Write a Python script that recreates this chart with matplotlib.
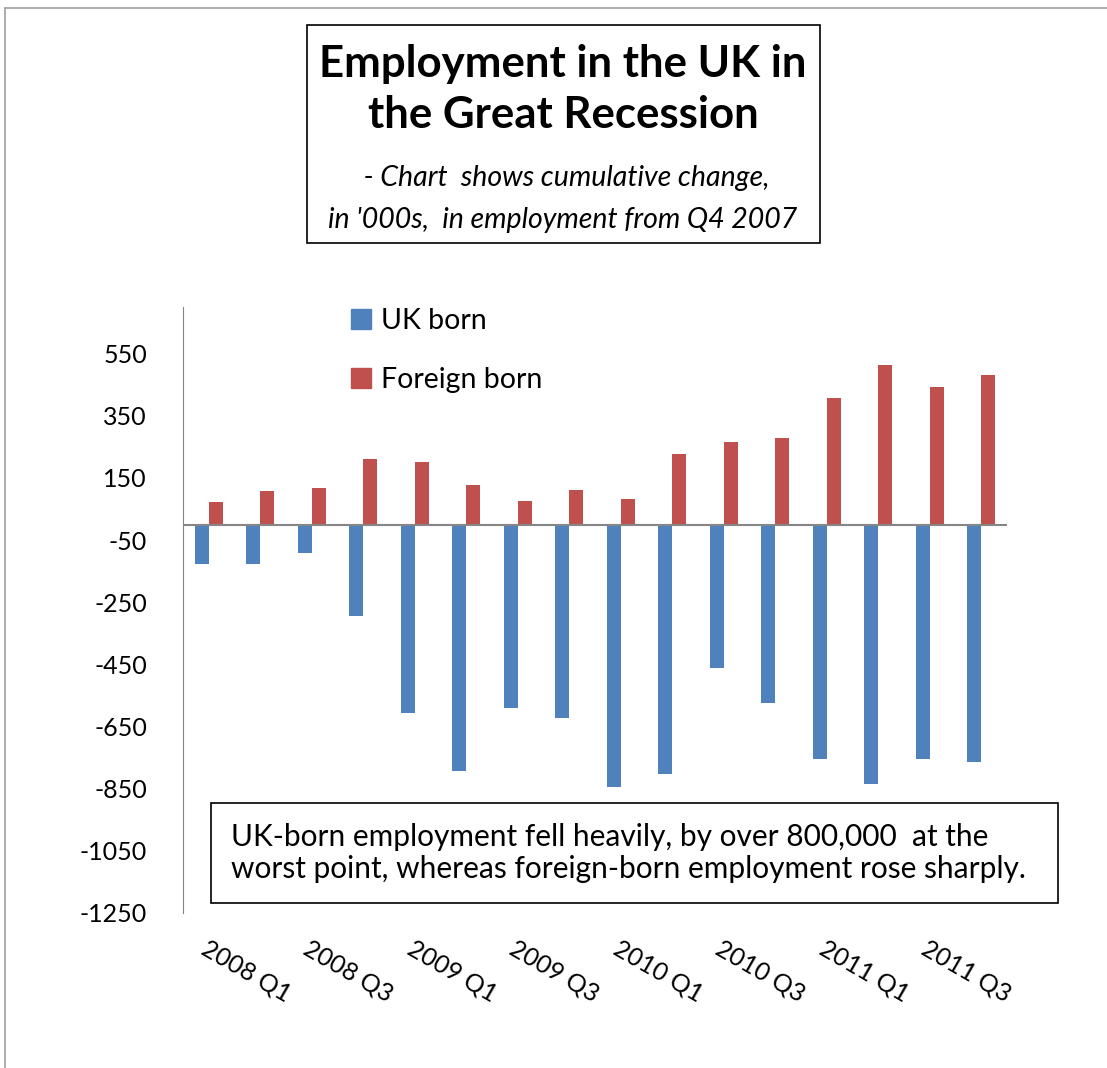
import numpy as np
import matplotlib
matplotlib.use("Agg")
import matplotlib.pyplot as plt
from matplotlib.patches import Rectangle, Patch
from matplotlib.lines import Line2D

plt.rcParams['font.family'] = ['Lato', 'DejaVu Sans']

# Cumulative change in employment since Q4 2007, thousands
quarters = ['2008 Q1', '2008 Q2', '2008 Q3', '2008 Q4',
            '2009 Q1', '2009 Q2', '2009 Q3', '2009 Q4',
            '2010 Q1', '2010 Q2', '2010 Q3', '2010 Q4',
            '2011 Q1', '2011 Q2', '2011 Q3', '2011 Q4']
uk_born = [-128, -128, -93, -293, -608, -794, -589, -623,
           -845, -804, -463, -573, -755, -834, -755, -764]
foreign_born = [72, 107, 117, 212, 202, 127, 77, 112,
                82, 227, 267, 278, 407, 513, 443, 482]
y_ticks = [550, 350, 150, -50, -250, -450, -650, -850, -1050, -1250]

W, H = 1107, 1068
fig = plt.figure(figsize=(W / 100, H / 100), dpi=100)


def fx(px):
    return px / W


def fy(py):
    return 1 - py / H


ax = fig.add_axes([fx(183), fy(913), fx(1007) - fx(183), fy(307) - fy(913)])

x = np.arange(len(quarters))
w = 0.272
ax.bar(x - w / 2, uk_born, w, color='#4F81BD', label='UK born')
ax.bar(x + w / 2, foreign_born, w, color='#C0504D', label='Foreign born')
ax.axhline(0, color='#868686', lw=1.5, zorder=3)

ax.set_xlim(-0.5, len(quarters) - 0.5)
ax.set_ylim(-1250, 700)
ax.set_yticks(y_ticks)
ax.set_yticklabels([str(v) for v in y_ticks], fontsize=18)
ax.set_xticks(x[::2])
ax.set_xticklabels(quarters[::2], fontsize=18, rotation=-30,
                   ha='left', va='top', rotation_mode='anchor')
ax.tick_params(axis='both', length=0)
ax.tick_params(axis='y', pad=26)
ax.tick_params(axis='x', pad=17)
for s in ['top', 'right', 'bottom']:
    ax.spines[s].set_visible(False)
ax.spines['left'].set_color('#868686')

# legend in the upper left of the plot
handles = [Patch(color='#4F81BD'), Patch(color='#C0504D')]
fig.legend(handles, ['UK born', 'Foreign born'], loc='upper left',
           bbox_to_anchor=(fx(351), fy(308)), frameon=False, fontsize=20.5,
           borderpad=0, borderaxespad=0, handlelength=0.7, handleheight=0.7,
           handletextpad=0.35, labelspacing=1.15)

# title box
fig.patches.append(Rectangle((fx(307), fy(243)), fx(820) - fx(307), fy(25) - fy(243),
                             transform=fig.transFigure, fill=False,
                             edgecolor='black', lw=1.2))
cx = fx(563)
fig.text(cx, fy(64), 'Employment in the UK in', ha='center', va='center',
         fontsize=31.5, fontweight='bold')
fig.text(cx, fy(115), 'the Great Recession', ha='center', va='center',
         fontsize=31.5, fontweight='bold')
fig.text(cx, fy(178), ' - Chart  shows cumulative change,', ha='center', va='center',
         fontsize=20.5, style='italic')
fig.text(cx, fy(220), "in '000s,  in employment from Q4 2007", ha='center', va='center',
         fontsize=20.5, style='italic')

# note box
fig.patches.append(Rectangle((fx(211), fy(903)), fx(1058) - fx(211), fy(803) - fy(903),
                             transform=fig.transFigure, fill=True, facecolor='white',
                             edgecolor='black', lw=1.2, zorder=5))
fig.text(fx(231), fy(853),
         'UK-born employment fell heavily, by over 800,000  at the\n'
         'worst point, whereas foreign-born employment rose sharply.',
         ha='left', va='center', fontsize=21.5, linespacing=1.2, zorder=6)

# page border on the top and left
fig.add_artist(Line2D([fx(5), 1], [fy(8), fy(8)], color='#A0A0A0', lw=1.2))
fig.add_artist(Line2D([fx(5), fx(5)], [0, fy(8)], color='#A0A0A0', lw=1.2))

fig.savefig('out.png', dpi=100)
